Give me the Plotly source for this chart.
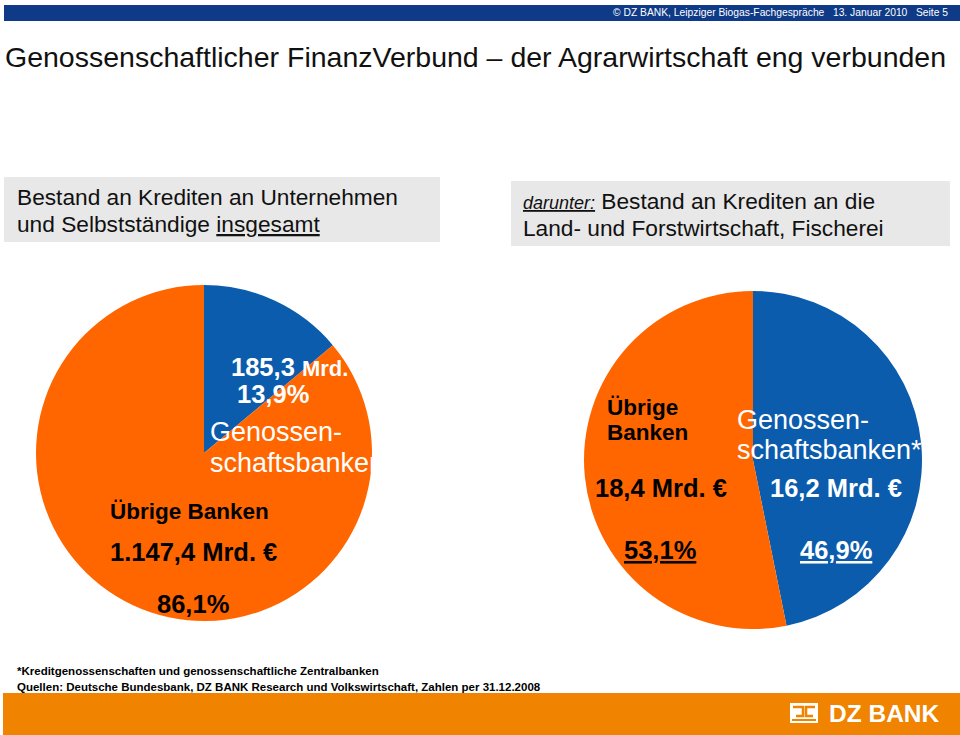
import plotly.graph_objects as go

W, H = 960, 735

# ---- data ----
slice_labels = ["Genossenschaftsbanken", "Übrige Banken"]
total_values = [185.3, 1147.4]          # Mrd. EUR, all loans to companies
agri_values = [16.2, 18.4]              # Mrd. EUR, agriculture/forestry/fishery
total_pct = ["13,9%", "86,1%"]
agri_pct = ["46,9%", "53,1%"]
total_amount = ["185,3", "1.147,4"]
agri_amount = ["16,2", "18,4"]

BLUE = "#0B5CAD"
ORANGE = "#FF6600"
FONT = "Liberation Sans, Arial, sans-serif"


def px(x, y):
    return x / W, 1 - y / H


def dom(x0, x1, y0, y1):
    return dict(x=[x0 / W, x1 / W], y=[1 - y1 / H, 1 - y0 / H])


fig = go.Figure()
fig.add_trace(go.Pie(labels=slice_labels, values=total_values, sort=False,
                     direction="clockwise", rotation=0, textinfo="none",
                     hoverinfo="label+value+percent",
                     marker=dict(colors=[BLUE, ORANGE], line=dict(width=0)),
                     domain=dom(36, 372, 285, 621), showlegend=False))
fig.add_trace(go.Pie(labels=slice_labels, values=agri_values, sort=False,
                     direction="clockwise", rotation=0, textinfo="none",
                     hoverinfo="label+value+percent",
                     marker=dict(colors=[BLUE, ORANGE], line=dict(width=0)),
                     domain=dom(584, 922, 291, 629), showlegend=False))

shapes = []
# header bar
shapes.append(dict(type="rect", xref="paper", yref="paper", x0=4 / W, x1=1,
                   y0=1 - 21 / H, y1=1 - 5 / H, fillcolor="#0E3A87", line=dict(width=0), layer="below"))
# grey boxes
shapes.append(dict(type="rect", xref="paper", yref="paper", x0=4 / W, x1=440 / W,
                   y0=1 - 242 / H, y1=1 - 177 / H, fillcolor="#E8E8E8", line=dict(width=0), layer="below"))
shapes.append(dict(type="rect", xref="paper", yref="paper", x0=511 / W, x1=950 / W,
                   y0=1 - 246 / H, y1=1 - 181 / H, fillcolor="#E8E8E8", line=dict(width=0), layer="below"))
# footer band
shapes.append(dict(type="rect", xref="paper", yref="paper", x0=3 / W, x1=1,
                   y0=0, y1=1 - 693 / H, fillcolor="#F08300", line=dict(width=0), layer="below"))
# logo icon
shapes.append(dict(type="rect", xref="paper", yref="paper", x0=790 / W, x1=818 / W,
                   y0=1 - 723 / H, y1=1 - 703 / H, fillcolor="white", line=dict(width=0)))
shapes.append(dict(type="path", xref="paper", yref="paper",
                   path="M {a},{b} L {c},{b} L {c},{d} L {e},{d}".format(
                       a=793 / W, b=1 - 707 / H, c=803 / W, d=1 - 716 / H, e=796 / W),
                   line=dict(color="#F08300", width=2.5)))
shapes.append(dict(type="path", xref="paper", yref="paper",
                   path="M {a},{b} L {c},{b} L {c},{d} L {e},{d}".format(
                       a=815 / W, b=1 - 707 / H, c=806 / W, d=1 - 716 / H, e=813 / W),
                   line=dict(color="#F08300", width=2.5)))
shapes.append(dict(type="line", xref="paper", yref="paper", x0=792 / W, x1=816 / W,
                   y0=1 - 720 / H, y1=1 - 720 / H, line=dict(color="#F08300", width=2)))

ann = []


def text(x, y, s, size, color="black", xanchor="left", bold=False):
    xx, yy = px(x, y)
    if bold:
        s = "<b>" + s + "</b>"
    ann.append(dict(x=xx, y=yy, xref="paper", yref="paper", text=s, showarrow=False,
                    xanchor=xanchor, yanchor="middle", align="left",
                    font=dict(family=FONT, size=size, color=color)))


text(950, 13, "© DZ BANK, Leipziger Biogas-Fachgespräche   13. Januar 2010   Seite 5", 10.3,
     "white", xanchor="right")
text(3, 57, "Genossenschaftlicher FinanzVerbund – der Agrarwirtschaft eng verbunden", 28.5, "#111111")

text(15, 197, "Bestand an Krediten an Unternehmen", 22.7, "#111111")
text(15, 224, "und Selbstständige <u>insgesamt</u>", 22.7, "#111111")
text(521, 201, "<i><u><span style='font-size:18px'>darunter:</span></u></i> Bestand an Krediten an die",
     22.7, "#111111")
text(521, 228, "Land- und Forstwirtschaft, Fischerei", 22.7, "#111111")

# left pie labels
text(229, 367, total_amount[0] + " <span style='font-size:22px'>Mrd.</span>", 25.5, "white", bold=True)
text(235, 394, total_pct[0], 25.5, "white", bold=True)
text(208, 432, "Genossen-", 27, "white")
text(208, 463, "schaftsbanken", 27, "white")
text(108, 512, slice_labels[1], 22.5, "black", bold=True)
text(108, 552, total_amount[1] + " Mrd. €", 25.5, "black", bold=True)
text(155, 604, total_pct[1], 25.5, "black", bold=True)

# right pie labels
text(605, 407, "Übrige", 22.5, "black", bold=True)
text(605, 432, "Banken", 22.5, "black", bold=True)
text(735, 420, "Genossen-", 27, "white")
text(735, 450, "schaftsbanken*", 27, "white")
text(593, 488, agri_amount[1] + " Mrd. €", 25.5, "black", bold=True)
text(768, 488, agri_amount[0] + " Mrd. €", 25.5, "white", bold=True)
text(622, 550, "<u>" + agri_pct[1] + "</u>", 25.5, "black", bold=True)
text(798, 550, "<u>" + agri_pct[0] + "</u>", 25.5, "white", bold=True)

# footnotes
text(15, 671, "*Kreditgenossenschaften und genossenschaftliche Zentralbanken", 11.5, "black", bold=True)
text(15, 687, "Quellen: Deutsche Bundesbank, DZ BANK Research und Volkswirtschaft, Zahlen per 31.12.2008",
     11.5, "black", bold=True)

# logo text
text(827, 713, "DZ BANK", 24.5, "white", bold=True)

fig.update_layout(width=W, height=H, margin=dict(l=0, r=0, t=0, b=0),
                  paper_bgcolor="white", plot_bgcolor="white",
                  shapes=shapes, annotations=ann, showlegend=False)

fig.write_html("out.html", config={"displayModeBar": False},
               post_script="document.body.style.margin='0';document.body.style.overflow='hidden';")
